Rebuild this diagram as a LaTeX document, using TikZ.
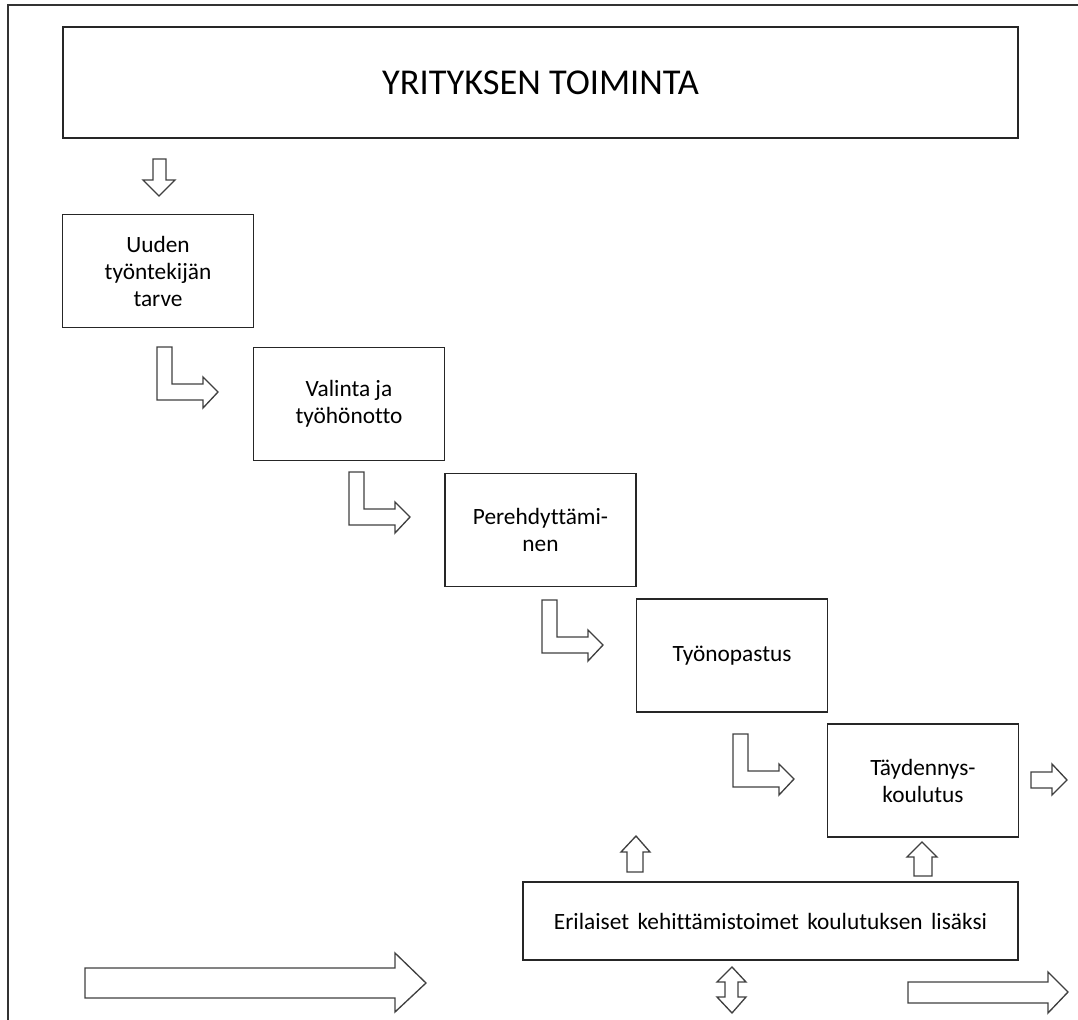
\documentclass[tikz,border=0pt]{standalone}
\usepackage{fontspec}
\setmainfont{Carlito}[Ligatures=NoCommon]
\newfontfamily\widespacefont{Carlito}[Ligatures=NoCommon,WordSpace=1.6]

\tikzset{every picture/.style={line width=0.75pt}}
\tikzset{
  stepbox/.style={draw=black!85, line width=1.1pt, align=center, inner sep=0pt,
    minimum width=143.25pt, minimum height=84.75pt, font=\fontsize{17.5}{20.25}\selectfont},
  widebox/.style={stepbox, minimum width=716.25pt, minimum height=83.25pt, font=\fontsize{27.3}{32}\selectfont},
  basebox/.style={stepbox, minimum width=371.25pt, minimum height=58.5pt, font=\widespacefont\fontsize{17.5}{20.25}\selectfont},
  blockarrow/.style={draw=black!75, line width=1pt, fill=white, line join=miter}
}

\begin{document}
\begin{tikzpicture}[x=0.75pt,y=0.75pt,yscale=-1,xscale=1]
\useasboundingbox (0,0) rectangle (1078,1020);

%Frame
\draw [draw=black!80, line width=1pt] (1078,5) -- (8,5) -- (8,1020) ;

%Boxes
\node (toiminta) [widebox] at (540.5,82.5) {YRITYKSEN TOIMINTA};
\node (tarve) [stepbox] at (158,271) {Uuden\\työntekijän\\tarve};
\node (valinta) [stepbox] at (349,404) {Valinta ja\\työhönotto};
\node (pereh) [stepbox] at (540.5,530) {Perehdyttämi-\\nen};
\node (opastus) [stepbox] at (732,655.5) {Työnopastus};
\node (taydennys) [stepbox] at (923,780.5) {Täydennys-\\koulutus};
\node (kehitys) [basebox] at (770.5,921) {Erilaiset kehittämistoimet koulutuksen lisäksi};

%Down Arrow
\draw [blockarrow] (153,159) -- (166,159) -- (166,180) -- (175,180) -- (159,196) -- (143,180) -- (153,180) -- cycle ;

%Bent Arrows
\draw [blockarrow, shift={(157,347)}] (0,0) -- (15,0) -- (15,37) -- (46,37) -- (46,30) -- (61,45) -- (46,61) -- (46,53) -- (0,53) -- cycle ;
\draw [blockarrow, shift={(349,472)}] (0,0) -- (15,0) -- (15,37) -- (46,37) -- (46,30) -- (61,45) -- (46,61) -- (46,53) -- (0,53) -- cycle ;
\draw [blockarrow, shift={(542,600)}] (0,0) -- (15,0) -- (15,37) -- (46,37) -- (46,30) -- (61,45) -- (46,61) -- (46,53) -- (0,53) -- cycle ;
\draw [blockarrow, shift={(733,734)}] (0,0) -- (15,0) -- (15,37) -- (46,37) -- (46,30) -- (61,45) -- (46,61) -- (46,53) -- (0,53) -- cycle ;

%Right Arrow
\draw [blockarrow] (1031,772) -- (1052,772) -- (1052,764) -- (1067,780) -- (1052,795) -- (1052,788) -- (1031,788) -- cycle ;

%Up Arrows
\draw [blockarrow] (627,872) -- (627,852) -- (621,852) -- (636,836) -- (650,852) -- (643,852) -- (643,872) -- cycle ;
\draw [blockarrow] (914,876) -- (914,857) -- (907,857) -- (922,842) -- (937,857) -- (932,857) -- (932,876) -- cycle ;

%Up Down Arrow
\draw [blockarrow] (732,967) -- (746,982) -- (738,982) -- (738,997) -- (746,997) -- (732,1013) -- (717,997) -- (725,997) -- (725,982) -- (717,982) -- cycle ;

%Bottom Arrows
\draw [blockarrow] (908,982) -- (1048,982) -- (1048,972) -- (1068,992) -- (1048,1013) -- (1048,1003) -- (908,1003) -- cycle ;
\draw [blockarrow] (85,968) -- (395,968) -- (395,953) -- (426,983) -- (395,1012) -- (395,998) -- (85,998) -- cycle ;

\end{tikzpicture}
\end{document}
